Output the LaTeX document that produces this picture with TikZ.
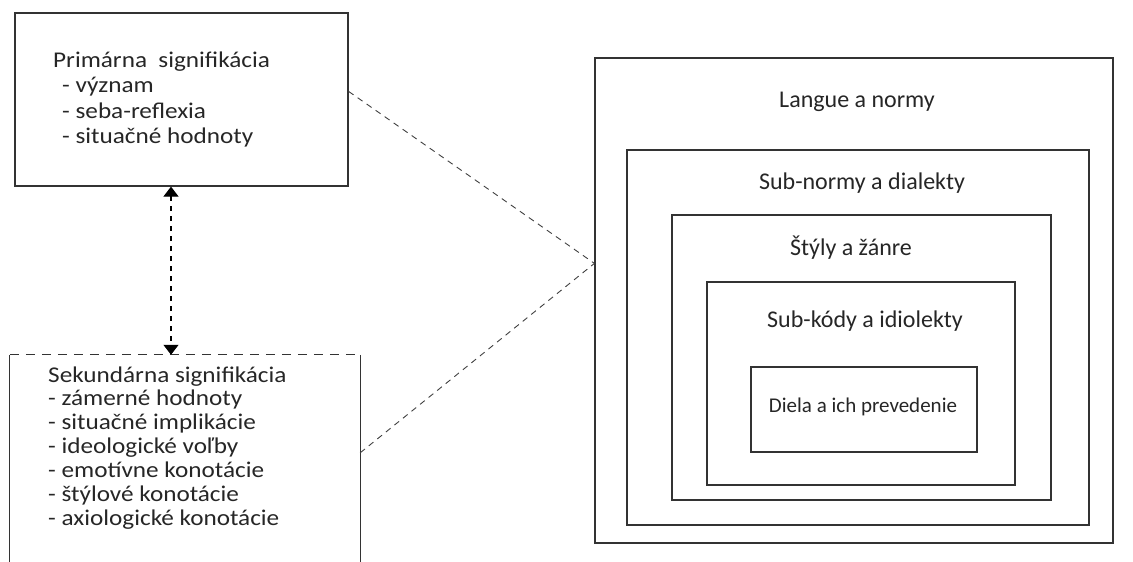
\documentclass[tikz,border=0pt]{standalone}
\usepackage{fontspec}
\setmainfont{Carlito}
\newfontfamily\widefont[FakeStretch=1.12]{Carlito}
\usetikzlibrary{arrows.meta,calc}
\begin{document}
\begin{tikzpicture}[x=1pt,y=-1pt,
  line/.style={line width=1.2pt, draw=black!80},
  box/.style={line, rectangle, inner sep=0pt},
  lbl/.style={text=black!85, font=\fontsize{24}{28}\selectfont, inner sep=0pt},
  small/.style={text=black!85, font=\fontsize{21}{25}\selectfont, inner sep=0pt},
  item/.style={text=black!85, font=\widefont\fontsize{22.5}{27}\selectfont, inner sep=0pt, anchor=base west},
  link/.style={line width=0.9pt, draw=black!75, dash pattern=on 6pt off 5pt}
]
\useasboundingbox (0,0) rectangle (1133,562);
% left boxes
\node[box, minimum width=333pt, minimum height=173pt] (prim) at (181.5,99.5) {};
\node[item] (p0) at (53,67) {Primárna\ \ signifikácia};
\node[item] (p1) at (62,92.5) {- význam};
\node[item] (p2) at (62,118) {- seba-reflexia};
\node[item] (p3) at (62,143.5) {- situačné hodnoty};
\node[rectangle, inner sep=0pt, minimum width=350pt, minimum height=230pt] (sek) at (185,470) {};
\draw[line] (sek.south west) -- (sek.north west);
\draw[line, dash pattern=on 9pt off 7pt] (sek.north west) -- (sek.north east);
\draw[line] (sek.north east) -- (sek.south east);
\foreach \t [count=\i from 0] in {Sekundárna signifikácia,- zámerné hodnoty,- situačné implikácie,- ideologické voľby,- emotívne konotácie,- štýlové konotácie,- axiologické konotácie}
  \node[item] (s\i) at (48,{382+23.9*\i}) {\t};
% double arrow
\coordinate (atop) at (prim.south -| 171,0);
\coordinate (abot) at (sek.north -| 171,0);
\draw[line width=1.1pt, draw=black, dash pattern=on 5pt off 5pt, {Triangle[width=15pt,length=10pt]}-{Triangle[width=15pt,length=10pt]}] (atop) -- (abot);
% nested boxes
\node[box, minimum width=518pt, minimum height=485pt] (b1) at (854,300.5) {};
\node[box, minimum width=462pt, minimum height=375pt] (b2) at (858,337.5) {};
\node[box, minimum width=379pt, minimum height=285pt] (b3) at (861.5,357.5) {};
\node[box, minimum width=308pt, minimum height=203pt] (b4) at (861,383.5) {};
\node[box, minimum width=226pt, minimum height=85pt] (b5) at (864,409.5) {};
\node[lbl] (t1) at (857,102) {Langue a normy};
\node[lbl] (t2) at (862,183) {Sub-normy a dialekty};
\node[lbl] (t3) at (851,248) {Štýly a žánre};
\node[lbl] (t4) at (865,321) {Sub-kódy a idiolekty};
\node[small] (t5) at (863,407) {Diela a ich prevedenie};
% dashed connectors
\path (prim.north east) ++(0,79) coordinate (c1);
\path (sek.north east) ++(0,98) coordinate (c2);
\path (b1.north west) ++(0,206) coordinate (apex);
\draw[link] (c1) -- (apex);
\draw[link] (c2) -- (apex);
\end{tikzpicture}
\end{document}
